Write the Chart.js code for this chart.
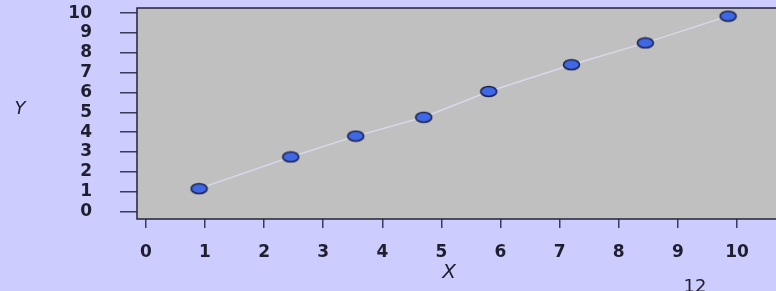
<!DOCTYPE html>
<html>
<head>
<meta charset="utf-8">
<script src="https://cdn.jsdelivr.net/npm/chart.js@4/dist/chart.umd.min.js"></script>
<style>
  html, body { margin: 0; padding: 0; background: #ccccff; }
  #wrap { position: relative; width: 776px; height: 291px; }
</style>
</head>
<body>
<div id="wrap"><canvas id="chart"></canvas></div>
<script>
// values
const xValues = [0.9, 2.45, 3.55, 4.7, 5.8, 7.2, 8.45, 9.85];
const yValues = [1.15, 2.75, 3.8, 4.75, 6.05, 7.4, 8.5, 9.85];
const xTicks = [0, 1, 2, 3, 4, 5, 6, 7, 8, 9, 10];
const yTicks = [0, 1, 2, 3, 4, 5, 6, 7, 8, 9, 10];
const xTitle = 'X';
const yTitle = 'Y';
const cornerNote = '12';

// oval marker
const dot = document.createElement('canvas');
dot.width = 19;
dot.height = 13;
(function () {
    const c = dot.getContext('2d');
    c.beginPath();
    c.ellipse(9.5, 6.5, 8, 5, 0, 0, Math.PI * 2);
    c.fillStyle = '#3f68e6';
    c.fill();
    c.lineWidth = 1.6;
    c.strokeStyle = '#1c2450';
    c.stroke();
})();

const plotFrame = {
    id: 'plotFrame',
    beforeDraw(chart) {
        const { ctx, chartArea: a } = chart;
        ctx.save();
        ctx.fillStyle = '#c0c0c0';
        ctx.fillRect(a.left, a.top, a.right - a.left, a.bottom - a.top);
        ctx.restore();
    },
    afterDraw(chart) {
        const { ctx, chartArea: a } = chart;
        ctx.save();
        ctx.strokeStyle = '#23233a';
        ctx.lineWidth = 1.5;
        ctx.strokeRect(a.left, a.top, a.right - a.left + 2, a.bottom - a.top);
        ctx.fillStyle = '#1e1e2e';
        ctx.textAlign = 'center';
        ctx.textBaseline = 'middle';
        ctx.font = 'italic 18px "DejaVu Sans"';
        ctx.fillText(yTitle, 20, 109);
        ctx.font = 'italic 20px "DejaVu Sans"';
        ctx.fillText(xTitle, 449, 273);
        ctx.font = '18px "DejaVu Sans"';
        ctx.textBaseline = 'alphabetic';
        ctx.fillText(cornerNote, 695, 292);
        ctx.restore();
    }
};

const tickFont = { family: 'DejaVu Sans', size: 17, weight: 'bold', lineHeight: 1 };

function noPad(s) {
    s.paddingTop = 0;
    s.paddingBottom = 0;
    s.paddingLeft = 0;
    s.paddingRight = 0;
}

new Chart(document.getElementById('chart'), {
    type: 'scatter',
    data: {
        datasets: [{
            data: xValues.map((x, i) => ({ x: x, y: yValues[i] })),
            showLine: true,
            borderColor: '#d8d8ea',
            borderWidth: 1.5,
            pointStyle: dot,
            pointRadius: 8,
            pointHoverRadius: 8
        }]
    },
    options: {
        responsive: true,
        maintainAspectRatio: false,
        animation: false,
        layout: { autoPadding: false, padding: { top: 8, left: 0, right: 0, bottom: 0 } },
        plugins: {
            legend: { display: false },
            tooltip: { enabled: false }
        },
        scales: {
            x: {
                type: 'linear',
                min: -0.15,
                max: 10.66,
                afterBuildTicks: s => { s.ticks = xTicks.map(v => ({ value: v })); },
                afterFit: s => { s.height = 72; noPad(s); },
                border: { display: false },
                grid: {
                    drawOnChartArea: false,
                    drawTicks: true,
                    tickLength: 9,
                    color: '#3a3a5c',
                    lineWidth: 1.5
                },
                ticks: {
                    autoSkip: false,
                    maxRotation: 0,
                    padding: 16,
                    color: '#1e1e2e',
                    font: tickFont
                }
            },
            y: {
                type: 'linear',
                min: -0.38,
                max: 10.26,
                afterBuildTicks: s => { s.ticks = yTicks.map(v => ({ value: v })); },
                afterFit: s => { s.width = 137; noPad(s); },
                border: { display: false },
                grid: {
                    drawOnChartArea: false,
                    drawTicks: true,
                    tickLength: 17,
                    color: '#3a3a5c',
                    lineWidth: 1.5
                },
                ticks: {
                    autoSkip: false,
                    padding: 28,
                    color: '#1e1e2e',
                    font: tickFont
                }
            }
        }
    },
    plugins: [plotFrame]
});
</script>
</body>
</html>
